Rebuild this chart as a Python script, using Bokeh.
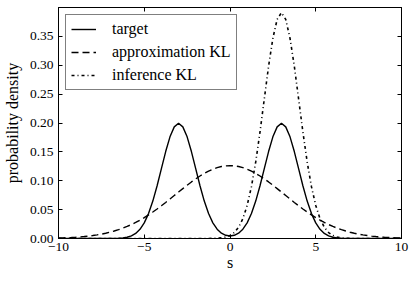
import numpy as np
from bokeh.plotting import figure
from bokeh.models import Range1d, FixedTicker, LinearAxis, Legend, LegendItem
from bokeh.embed import file_html
from bokeh.resources import INLINE

# sample positions (s axis grid)
s_values = np.linspace(-10, 10, 81)

target = [0.0, 0.0, 0.0, 0.0, 0.0, 0.0, 0.0, 0.0, 0.0, 0.0, 0.0,
          0.00002, 0.00007, 0.00018, 0.00044, 0.00101, 0.00222, 0.00455, 0.00876, 0.01587, 0.02700,
          0.04314, 0.06476, 0.09132, 0.12098, 0.15057, 0.17603, 0.19333, 0.19947, 0.19333, 0.17603,
          0.15057, 0.12098, 0.09132, 0.06476, 0.04316, 0.02707, 0.01605, 0.00920, 0.00556, 0.00444,
          0.00556, 0.00920, 0.01605, 0.02707, 0.04316, 0.06476, 0.09132, 0.12098, 0.15057, 0.17603,
          0.19333, 0.19947, 0.19333, 0.17603, 0.15057, 0.12098, 0.09132, 0.06476, 0.04314, 0.02700,
          0.01587, 0.00876, 0.00455, 0.00222, 0.00101, 0.00044, 0.00018, 0.00007, 0.00002,
          0.0, 0.0, 0.0, 0.0, 0.0, 0.0, 0.0, 0.0, 0.0, 0.0, 0.0]

approximation_kl = [0.00085, 0.00109, 0.00138, 0.00175, 0.00220, 0.00274, 0.00340, 0.00420, 0.00514, 0.00626,
                    0.00758, 0.00911, 0.01089, 0.01293, 0.01526, 0.01789, 0.02085, 0.02415, 0.02780, 0.03180,
                    0.03614, 0.04083, 0.04584, 0.05113, 0.05669, 0.06245, 0.06838, 0.07440, 0.08044, 0.08644,
                    0.09230, 0.09795, 0.10329, 0.10825, 0.11273, 0.11668, 0.12000, 0.12266, 0.12459, 0.12576,
                    0.12616,
                    0.12576, 0.12459, 0.12266, 0.12000, 0.11668, 0.11273, 0.10825, 0.10329, 0.09795, 0.09230,
                    0.08644, 0.08044, 0.07440, 0.06838, 0.06245, 0.05669, 0.05113, 0.04584, 0.04083, 0.03614,
                    0.03180, 0.02780, 0.02415, 0.02085, 0.01789, 0.01526, 0.01293, 0.01089, 0.00911, 0.00758,
                    0.00626, 0.00514, 0.00420, 0.00340, 0.00274, 0.00220, 0.00175, 0.00138, 0.00109, 0.00085]

inference_kl = ([0.0] * 35 +
                [0.00007, 0.00018, 0.00045, 0.00109, 0.00244, 0.00517, 0.01032, 0.01939, 0.03431, 0.05718,
                 0.08974, 0.13261, 0.18453, 0.24180, 0.29840, 0.34674, 0.37943, 0.39100, 0.37943, 0.34674,
                 0.29840, 0.24180, 0.18453, 0.13261, 0.08974, 0.05718, 0.03431, 0.01939, 0.01032, 0.00517,
                 0.00244, 0.00109, 0.00045, 0.00018, 0.00007] +
                [0.0] * 11)

x_ticks = [-10, -5, 0, 5, 10]
x_tick_labels = {-10: "\u221210", -5: "\u22125", 0: "0", 5: "5", 10: "10"}
y_ticks = [0.0, 0.05, 0.10, 0.15, 0.20, 0.25, 0.30, 0.35]
y_tick_labels = {0.0: "0.00", 0.05: "0.05", 0.10: "0.10", 0.15: "0.15",
                 0.20: "0.20", 0.25: "0.25", 0.30: "0.30", 0.35: "0.35"}
series_labels = ["target", "approximation KL", "inference KL"]

FONT = "Liberation Serif"

p = figure(width=416, height=282, output_backend="svg", toolbar_location=None,
           x_range=Range1d(-10, 10), y_range=Range1d(0, 0.4),
           min_border_left=55, min_border_right=15, min_border_top=7, min_border_bottom=44,
           x_axis_label="s", y_axis_label="probability density")
p.grid.visible = False
p.outline_line_color = "black"
p.outline_line_width = 1
p.background_fill_color = "white"
p.border_fill_color = "white"

r1 = p.line(s_values, target, line_color="black", line_width=1.4)
r2 = p.line(s_values, approximation_kl, line_color="black", line_width=1.4, line_dash="7 4")
r3 = p.line(s_values, inference_kl, line_color="black", line_width=1.6, line_dash="3 3 1 3")

for ax in [p.xaxis[0], p.yaxis[0]]:
    ax.major_tick_in = 4
    ax.major_tick_out = 0
    ax.minor_tick_line_color = None
    ax.axis_line_color = "black"
    ax.major_tick_line_color = "black"
    ax.major_label_text_font = FONT
    ax.major_label_text_font_size = "13.5px"
    ax.major_label_text_color = "black"
    ax.axis_label_text_font = FONT
    ax.axis_label_text_font_size = "16px"
    ax.axis_label_text_font_style = "normal"
    ax.axis_label_text_color = "black"

p.xaxis[0].ticker = FixedTicker(ticks=x_ticks)
p.xaxis[0].major_label_overrides = x_tick_labels
p.xaxis[0].major_label_standoff = 4
p.xaxis[0].axis_label_standoff = 0
p.yaxis[0].ticker = FixedTicker(ticks=y_ticks)
p.yaxis[0].major_label_overrides = y_tick_labels
p.yaxis[0].major_label_standoff = 5
p.yaxis[0].axis_label_standoff = 6

top_ax = LinearAxis(ticker=FixedTicker(ticks=x_ticks))
right_ax = LinearAxis(ticker=FixedTicker(ticks=y_ticks))
for ax in [top_ax, right_ax]:
    ax.major_tick_in = 4
    ax.major_tick_out = 0
    ax.minor_tick_line_color = None
    ax.axis_line_color = "black"
    ax.major_tick_line_color = "black"
    ax.major_label_text_font_size = "0px"
    ax.major_label_text_alpha = 0
    ax.major_label_standoff = 0
p.add_layout(top_ax, "above")
p.add_layout(right_ax, "right")

legend = Legend(items=[LegendItem(label=series_labels[0], renderers=[r1]),
                       LegendItem(label=series_labels[1], renderers=[r2]),
                       LegendItem(label=series_labels[2], renderers=[r3])],
                location="top_left")
legend.margin = 7
legend.padding = 5
legend.spacing = 5
legend.label_height = 16
legend.glyph_height = 16
legend.glyph_width = 25
legend.label_standoff = 16
legend.border_line_color = "black"
legend.border_line_width = 1
legend.label_text_font = FONT
legend.label_text_font_size = "16px"
legend.label_text_color = "black"
legend.background_fill_color = "white"
legend.background_fill_alpha = 1
p.add_layout(legend)

open("out.html", "w").write(file_html(p, INLINE))
